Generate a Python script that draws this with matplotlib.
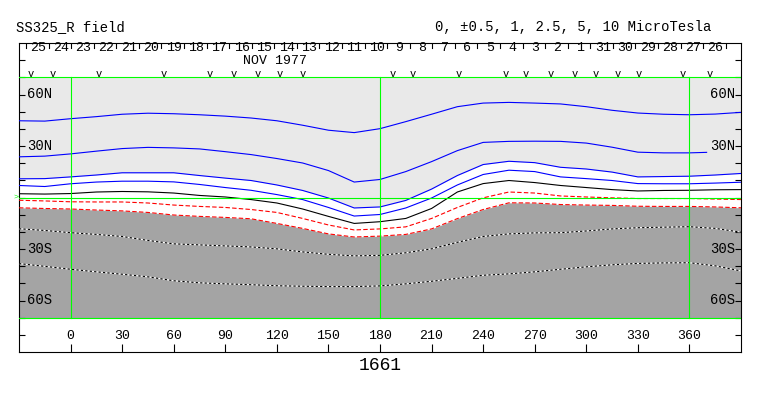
import matplotlib
matplotlib.use("Agg")
import matplotlib.pyplot as plt

# Carrington longitude grid (deg) and contour latitudes
lons = [-30, -15, 0, 15, 30, 45, 60, 75, 90, 105, 120, 135, 150, 165, 180,
        195, 210, 225, 240, 255, 270, 285, 300, 315, 330, 345, 360, 375, 390]

blue_1 = [44.7, 44.5, 45.9, 47.1, 48.5, 49.1, 48.8, 48.2, 47.4, 46.3, 44.7, 42.1, 39.2, 37.8, 40.1,
          44.2, 48.5, 52.9, 55.0, 55.4, 55.0, 54.5, 52.9, 50.8, 49.2, 48.5, 48.2, 48.6, 49.6]
blue_2_lons = lons[:27] + [370]
blue_2 = [23.7, 24.1, 25.4, 27.0, 28.5, 29.2, 28.9, 28.3, 26.7, 25.0, 22.7, 20.1, 15.7, 9.0, 10.5,
          15.1, 20.9, 27.3, 32.1, 32.7, 32.8, 32.7, 31.7, 29.3, 26.4, 26.0, 26.0, 26.3]
blue_3 = [10.9, 11.0, 12.0, 13.1, 14.4, 14.4, 14.4, 12.8, 11.3, 9.9, 7.3, 4.1, -0.3, -6.1, -5.5,
          -1.7, 4.9, 12.8, 19.2, 21.1, 20.3, 17.6, 16.6, 14.8, 12.0, 12.2, 12.4, 13.1, 14.0]
blue_4 = [7.0, 6.4, 8.0, 9.0, 9.5, 9.5, 9.1, 7.6, 5.8, 4.2, 1.7, -1.2, -5.8, -10.8, -9.9,
          -6.1, -0.3, 7.3, 13.4, 15.9, 15.1, 12.0, 11.0, 9.9, 8.1, 8.0, 8.0, 8.4, 8.9]
neutral = [2.2, 2.0, 2.3, 3.2, 3.5, 3.3, 2.6, 1.2, 0.3, -1.2, -3.2, -6.7, -11.0, -15.1, -14.1,
           -12.2, -6.4, 3.2, 8.1, 9.9, 8.7, 7.0, 5.8, 4.6, 3.8, 4.1, 4.2, 4.5, 4.6]
red_1 = [-1.6, -2.0, -2.5, -2.6, -2.6, -3.2, -4.4, -5.2, -5.8, -7.0, -8.7, -12.2, -16.0, -18.9, -18.3,
         -17.1, -12.2, -5.8, -0.2, 3.2, 2.6, 0.9, 0.3, -0.2, -0.6, -0.6, -0.6, -0.9, -1.2]
red_2 = [-6.0, -6.4, -6.7, -7.3, -7.8, -8.7, -10.2, -11.0, -11.6, -12.4, -15.1, -18.0, -21.2, -23.0, -22.5,
         -21.5, -18.3, -12.3, -7.0, -3.1, -3.2, -4.1, -4.4, -4.6, -5.1, -5.2, -5.2, -5.5, -6.0]
dot_1 = [-18.2, -19.2, -20.5, -21.5, -22.7, -25.0, -27.0, -27.6, -28.2, -28.8, -29.9, -31.7, -33.1, -34.0, -33.7,
         -32.2, -29.9, -26.1, -22.7, -21.2, -20.6, -20.5, -19.5, -18.3, -17.6, -17.3, -17.0, -18.0, -20.2]
dot_2 = [-38.5, -40.1, -41.8, -43.3, -44.7, -46.2, -48.5, -49.7, -50.3, -50.8, -51.4, -51.7, -51.9, -51.9, -51.5,
         -50.3, -48.8, -47.1, -45.3, -44.5, -43.3, -41.8, -40.4, -39.2, -38.4, -38.1, -38.0, -39.8, -42.8]

# calendar strip: days (Nov 25 back to Oct 26), first day boundary and degrees per day
days = ["25", "24", "23", "22", "21", "20", "19", "18", "17", "16", "15", "14", "13", "12", "11", "10",
        "9", "8", "7", "6", "5", "4", "3", "2", "1", "31", "30", "29", "28", "27", "26"]
day_start = -25.9
deg_per_day = 13.13
obs_lons = [-23.2, -10.5, 16.3, 54, 80.8, 94.7, 108.7, 121.5, 134.8, 187.7, 199.3, 226,
            253.4, 265, 279.5, 293.5, 305.7, 318.5, 330.7, 356.2, 372]

lon_ticks = [0, 30, 60, 90, 120, 150, 180, 210, 240, 270, 300, 330, 360]
lat_labels = {60: "60N", 30: "30N", -30: "30S", -60: "60S"}

FONT = "Liberation Mono"
GREEN = "#00ff00"
LW = 0.8

fig = plt.figure(figsize=(7.63, 3.96), dpi=100)
ax = fig.add_axes([19 / 763, 44 / 396, 722 / 763, 309 / 396])
ax.set_xlim(-30, 390)
ax.set_ylim(-90, 90)

# polarity shading
ax.fill_between(lons, blue_3, 70, color="#e9e9e9", lw=0, zorder=1)
ax.fill_between(lons, -70, red_2, color="#a4a4a4", lw=0, zorder=1)

for ys in (blue_1, blue_3, blue_4):
    ax.plot(lons, ys, color="#0000ff", lw=LW, zorder=3)
ax.plot(blue_2_lons, blue_2, color="#0000ff", lw=LW, zorder=3)
ax.plot(lons, neutral, color="black", lw=LW, zorder=3)
for ys in (red_1, red_2):
    ax.plot(lons, ys, color="#ff0000", lw=LW, ls=(0, (4, 2)), zorder=3)
for ys in (dot_1, dot_2):
    ax.plot(lons, ys, color="white", lw=LW, zorder=3)
    ax.plot(lons, ys, color="black", lw=LW, ls=(0, (2, 2)), zorder=3)

# green grid
for yv in (70, 0, -70):
    ax.plot([-30, 390], [yv, yv], color=GREEN, lw=LW, zorder=4)
for xv in (0, 180, 360):
    ax.plot([xv, xv], [-70, 70], color=GREEN, lw=LW, zorder=4)
ax.text(-30.5, 0, ">", color=GREEN, fontsize=6, ha="right", va="center",
        family=FONT, clip_on=False)

# frame and ticks
for sp in ax.spines.values():
    sp.set_linewidth(0.8)
ax.set_yticks(range(-80, 90, 10))
ax.set_xticks(lon_ticks)
ax.tick_params(axis="y", direction="in", length=4.5, width=0.8, left=True, right=True,
               labelleft=False, labelright=False)
ax.tick_params(axis="x", direction="in", length=6, width=0.8, bottom=True, top=False,
               labelbottom=False)

for lon in lon_ticks:
    ax.text(lon, -80.8, str(lon), ha="center", va="center", fontsize=9.5, family=FONT)
for lat, lab in lat_labels.items():
    ax.text(-25.2, lat, lab, ha="left", va="center", fontsize=10, family=FONT, zorder=5)
    ax.text(386.6, lat, lab, ha="right", va="center", fontsize=10, family=FONT, zorder=5)

# date strip
for k in range(len(days) + 1):
    b = day_start + deg_per_day * k
    ax.plot([b, b], [86.8, 89.5], color="black", lw=0.8, zorder=5)
for k, d in enumerate(days):
    ax.text(day_start + deg_per_day * (k + 0.55), 86.8, d, ha="center", va="center",
            fontsize=9.5, family=FONT)
ax.text(119, 79.5, "NOV 1977", ha="center", va="center", fontsize=9.5, family=FONT)
for lon in obs_lons:
    ax.text(lon, 72.0, "v", ha="center", va="center", fontsize=7.5, family=FONT)

fig.text(16 / 763, 1 - 27 / 396, "SS325_R field", ha="left", va="center", fontsize=10, family=FONT)
fig.text(711 / 763, 1 - 27 / 396, "0, \u00b10.5, 1, 2.5, 5, 10 MicroTesla", ha="right",
         va="center", fontsize=10, family=FONT)
ax.text(180, -97.6, "1661", ha="center", va="center", fontsize=13, family=FONT, clip_on=False)

fig.savefig("out.png", dpi=100)
